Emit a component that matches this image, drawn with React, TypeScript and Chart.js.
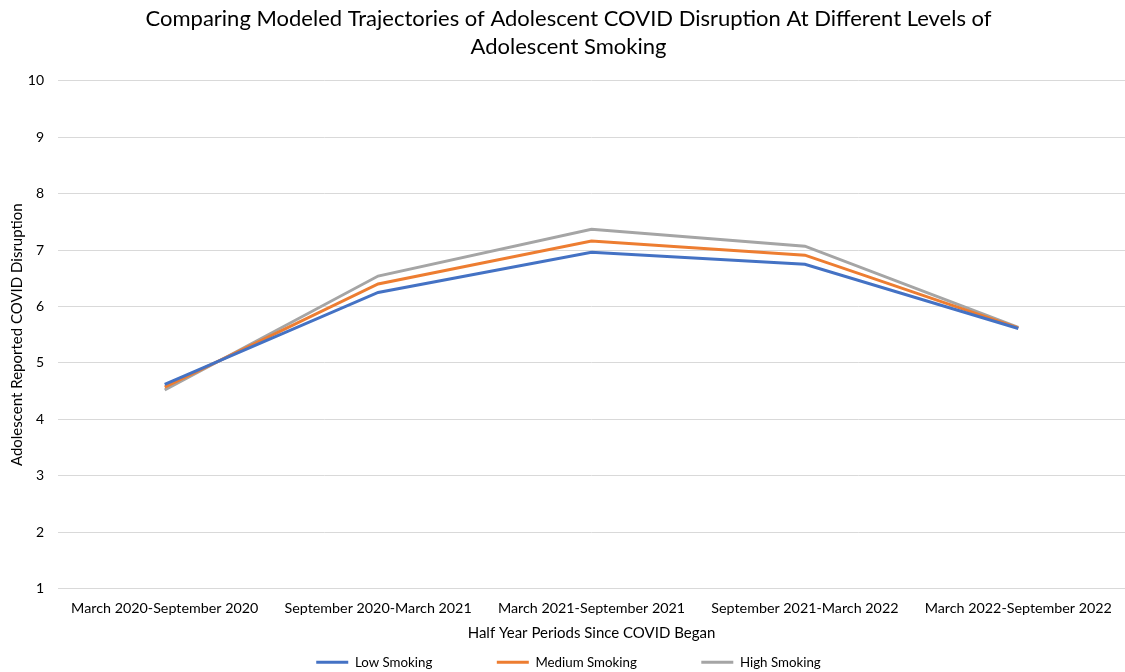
import React, { useEffect, useRef } from "react";
import { Chart, registerables } from "chart.js";

Chart.register(...registerables);

const categories = [
  "March 2020-September 2020",
  "September 2020-March 2021",
  "March 2021-September 2021",
  "September 2021-March 2022",
  "March 2022-September 2022",
];
const lowSmoking = [4.62, 6.25, 6.96, 6.75, 5.61];
const mediumSmoking = [4.57, 6.4, 7.16, 6.91, 5.62];
const highSmoking = [4.52, 6.54, 7.37, 7.07, 5.63];

const titleLines = [
  "Comparing Modeled Trajectories of Adolescent COVID Disruption At Different Levels of",
  "Adolescent Smoking",
];
const xTitle = "Half Year Periods Since COVID Began";
const yTitle = "Adolescent Reported COVID Disruption";

const FONT = "Lato, 'Open Sans', sans-serif";
const LEGEND_SIZE = 13.3;
const LEGEND_GAP = 54;

export default function App() {
  const ref = useRef<HTMLCanvasElement>(null);
  useEffect(() => {
    if (!ref.current) return;
    const mk = (label: string, data: number[], color: string) => ({
      label,
      data,
      borderColor: color,
      backgroundColor: color,
      borderWidth: 3,
      pointRadius: 0,
      tension: 0,
    });
    const chart = new Chart(ref.current, {
      type: "line",
      data: {
        labels: categories,
        datasets: [
          mk("Low Smoking", lowSmoking, "#4472C4"),
          mk("Medium Smoking", mediumSmoking, "#ED7D31"),
          mk("High Smoking", highSmoking, "#A5A5A5"),
        ],
      },
      options: {
        animation: false,
        responsive: false,
        maintainAspectRatio: false,
        layout: { padding: { left: 8, right: -4, top: 5, bottom: -7 } },
        plugins: {
          title: {
            display: true,
            text: titleLines,
            color: "#000",
            font: { family: FONT, size: 22, weight: "normal", lineHeight: 1.27 },
            padding: { top: 0, bottom: 20 },
          },
          legend: {
            position: "bottom",
            labels: {
              boxWidth: 32,
              boxHeight: 3,
              padding: 10,
              color: "#000",
              font: { family: FONT, size: LEGEND_SIZE },
              generateLabels: (c: any) => {
                const items = Chart.defaults.plugins.legend.labels.generateLabels(c);
                const ctx = c.ctx;
                ctx.save();
                ctx.font = `${LEGEND_SIZE}px ${FONT}`;
                const sw = ctx.measureText(" ").width || 3;
                ctx.restore();
                const n = Math.round(LEGEND_GAP / sw);
                return items.map((it: any, i: number) => ({
                  ...it,
                  lineWidth: 0,
                  text: i < items.length - 1 ? it.text + " ".repeat(n) : it.text,
                }));
              },
            },
          },
          tooltip: { enabled: false },
        },
        scales: {
          x: {
            offset: true,
            grid: { display: false },
            border: { color: "#d9d9d9" },
            ticks: {
              color: "#000",
              font: { family: FONT, size: 14.3 },
              maxRotation: 0,
              autoSkip: false,
            },
            title: {
              display: true,
              text: xTitle,
              color: "#000",
              font: { family: FONT, size: 15 },
              padding: { top: 4, bottom: 4 },
            },
          },
          y: {
            min: 1,
            max: 10,
            afterFit: (scale: any) => {
              scale.width = 50;
            },
            ticks: {
              stepSize: 1,
              color: "#000",
              font: { family: FONT, size: 14 },
              padding: 14,
            },
            grid: { color: "#d9d9d9", drawTicks: false },
            border: { display: false },
            title: {
              display: true,
              text: yTitle,
              color: "#000",
              font: { family: FONT, size: 15 },
              padding: { top: 0, bottom: 4 },
            },
          },
        },
      },
    });
    return () => chart.destroy();
  }, []);
  return (
    <div style={{ position: "absolute", left: 0, top: 0, width: 1125, height: 672, background: "#fff" }}>
      <canvas ref={ref} width={1125} height={672} style={{ display: "block" }} />
    </div>
  );
}
